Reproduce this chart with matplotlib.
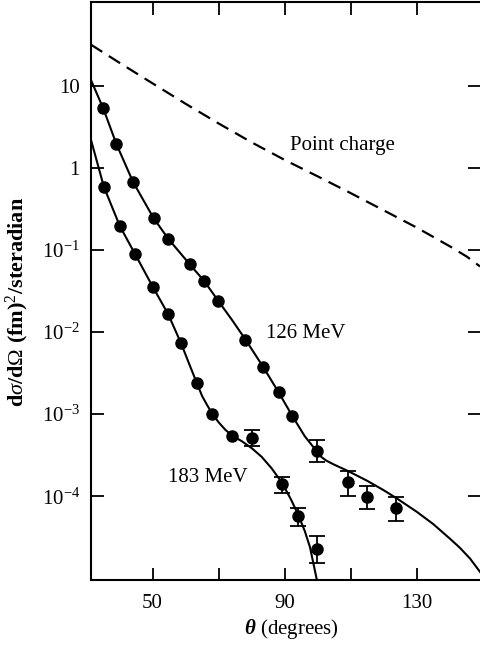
import matplotlib
matplotlib.use('Agg')
import matplotlib.pyplot as plt
from matplotlib.ticker import FixedLocator, FixedFormatter

plt.rcParams['font.family'] = ['Liberation Serif', 'DejaVu Serif']
plt.rcParams['mathtext.fontset'] = 'custom'
plt.rcParams['mathtext.rm'] = 'Liberation Serif'
plt.rcParams['mathtext.it'] = 'Liberation Serif:italic'
plt.rcParams['mathtext.bf'] = 'Liberation Serif:bold:italic'

# 126 MeV measured points
theta_126 = [35.1, 39.1, 44.1, 50.3, 54.8, 61.3, 65.6, 69.8, 78.1, 83.4, 88.1, 92.2,
             99.6, 109.1, 114.9, 123.6]
sig_126 = [5.3, 1.94, 0.675, 0.245, 0.136, 0.0665, 0.0419, 0.0242, 0.0081, 0.00379,
           0.00185, 9.6e-4, 3.54e-4, 1.48e-4, 9.7e-5, 7.1e-5]
# error bars (126 MeV, large angles)
theta_126_err = [99.6, 109.1, 114.9, 123.6]
mid_126 = [3.54e-4, 1.48e-4, 9.7e-5, 7.1e-5]
lo_126 = [2.6e-4, 1.0e-4, 6.9e-5, 4.95e-5]
hi_126 = [4.82e-4, 2.02e-4, 1.32e-4, 9.7e-5]

# 183 MeV measured points
theta_183 = [35.3, 40.1, 44.7, 50.1, 54.7, 58.6, 63.4, 68.0, 74.0, 80.1, 89.2, 94.0, 99.7]
sig_183 = [0.586, 0.196, 0.0894, 0.0354, 0.0166, 0.00734, 0.00239, 1.0e-3, 5.4e-4,
           5.1e-4, 1.40e-4, 5.7e-5, 2.26e-5]
theta_183_err = [80.1, 89.2, 94.0, 99.7]
mid_183 = [5.1e-4, 1.40e-4, 5.7e-5, 2.26e-5]
lo_183 = [4.07e-4, 1.09e-4, 4.3e-5, 1.52e-5]
hi_183 = [6.4e-4, 1.71e-4, 7.1e-5, 3.25e-5]

# theoretical curves
curve_theta_126 = [31.4, 35.1, 39.1, 44.1, 50.3, 54.8, 61.3, 65.6, 69.8, 74.0, 78.1, 83.4,
                   88.1, 92.2, 96.0, 98.0, 99.6, 101.0, 102.5, 104.7, 109.2, 114.8, 119.8,
                   123.8, 129.9, 134.9, 140.0, 143.0, 146.0, 149.0]
curve_sig_126 = [11.7, 5.3, 1.94, 0.675, 0.245, 0.136, 0.0665, 0.0419, 0.0242, 0.0141,
                 0.0081, 0.00379, 0.00185, 9.6e-4, 5.4e-4, 4.27e-4, 3.55e-4, 3.02e-4,
                 2.72e-4, 2.45e-4, 2.02e-4, 1.55e-4, 1.19e-4, 9.44e-5, 6.46e-5, 4.57e-5,
                 3.02e-5, 2.34e-5, 1.74e-5, 1.2e-5]

curve_theta_183 = [31.4, 35.3, 40.1, 44.7, 50.1, 54.7, 58.6, 61.0, 63.4, 65.0, 66.5, 68.0,
                   70.0, 72.0, 74.0, 77.0, 80.0, 83.0, 86.0, 89.2, 92.0, 94.0, 96.0, 97.6,
                   99.7]
curve_sig_183 = [2.19, 0.586, 0.196, 0.0894, 0.0354, 0.0166, 0.00734, 0.00417, 0.00239,
                 1.66e-3, 1.29e-3, 1.02e-3, 7.94e-4, 6.46e-4, 5.5e-4, 4.68e-4, 3.85e-4,
                 3.02e-4, 2.19e-4, 1.45e-4, 8.9e-5, 6.0e-5, 3.8e-5, 2.4e-5, 9.5e-6]

point_theta = [31.4, 40, 50, 60, 70, 80, 90, 100, 110, 120, 130, 140, 145, 149.0]
point_sig = [31.6, 19.05, 10.7, 6.03, 3.47, 2.04, 1.245, 0.785, 0.49, 0.302, 0.186,
             0.110, 0.083, 0.063]

ytick_vals = [10, 1, 0.1, 0.01, 0.001, 0.0001]
ytick_labels = ['10', '1', '$10^{-1}$', '$10^{-2}$', '$10^{-3}$', '$10^{-4}$']
xtick_vals = [50, 70, 90, 110, 130]
xtick_labels = ['50', '', '90', '', '130']

fig = plt.figure(figsize=(4.8, 6.46), dpi=100)
ax = fig.add_axes([91 / 480, 1 - 580 / 646, 389 / 480, 578 / 646])

ax.plot(point_theta, point_sig, color='black', lw=1.6, dashes=(6, 3.5))
ax.plot(curve_theta_126, curve_sig_126, color='black', lw=1.5)
ax.plot(curve_theta_183, curve_sig_183, color='black', lw=1.5)

for th, mid, lo, hi in [(theta_126_err, mid_126, lo_126, hi_126),
                        (theta_183_err, mid_183, lo_183, hi_183)]:
    yerr = [[m - l for m, l in zip(mid, lo)], [h - m for m, h in zip(mid, hi)]]
    ax.errorbar(th, mid, yerr=yerr, fmt='none', ecolor='black', elinewidth=1.3,
                capsize=5.5, capthick=1.3)

ax.plot(theta_126, sig_126, 'o', color='black', ms=8)
ax.plot(theta_183, sig_183, 'o', color='black', ms=8)

ax.set_yscale('log')
ax.set_xlim(31.4, 149.0)
ax.set_ylim(10 ** -5.02, 10 ** 2.02)

ax.yaxis.set_major_locator(FixedLocator(ytick_vals))
ax.yaxis.set_major_formatter(FixedFormatter(ytick_labels))
ax.yaxis.set_minor_locator(FixedLocator([]))
ax.xaxis.set_major_locator(FixedLocator(xtick_vals))
ax.xaxis.set_major_formatter(FixedFormatter(xtick_labels))

ax.tick_params(axis='both', direction='in', length=9, width=1.3, labelsize=15,
               top=True, right=True, colors='black')
ax.tick_params(axis='y', pad=8)
ax.tick_params(axis='x', pad=10)
ax.spines['right'].set_visible(False)
for s in ['left', 'top', 'bottom']:
    ax.spines[s].set_linewidth(1.5)

ax.text(91.6, 10 ** 0.27, 'Point charge', fontsize=15, va='center', ha='left')
ax.text(84.3, 10 ** -2.02, '126 MeV', fontsize=15, va='center', ha='left')
ax.text(54.7, 10 ** -3.77, '183 MeV', fontsize=15, va='center', ha='left')

fig.text(291 / 480, 1 - 629 / 646, r'$\mathbf{\theta}$ (degrees)', fontsize=15,
         ha='center', va='center')
fig.text(17 / 480, 1 - 302 / 646, r'd$\sigma$/d$\Omega$ (fm)$^2$/steradian', fontsize=16,
         ha='center', va='center', rotation=90, fontweight='bold')

fig.savefig('out.png', dpi=100)
